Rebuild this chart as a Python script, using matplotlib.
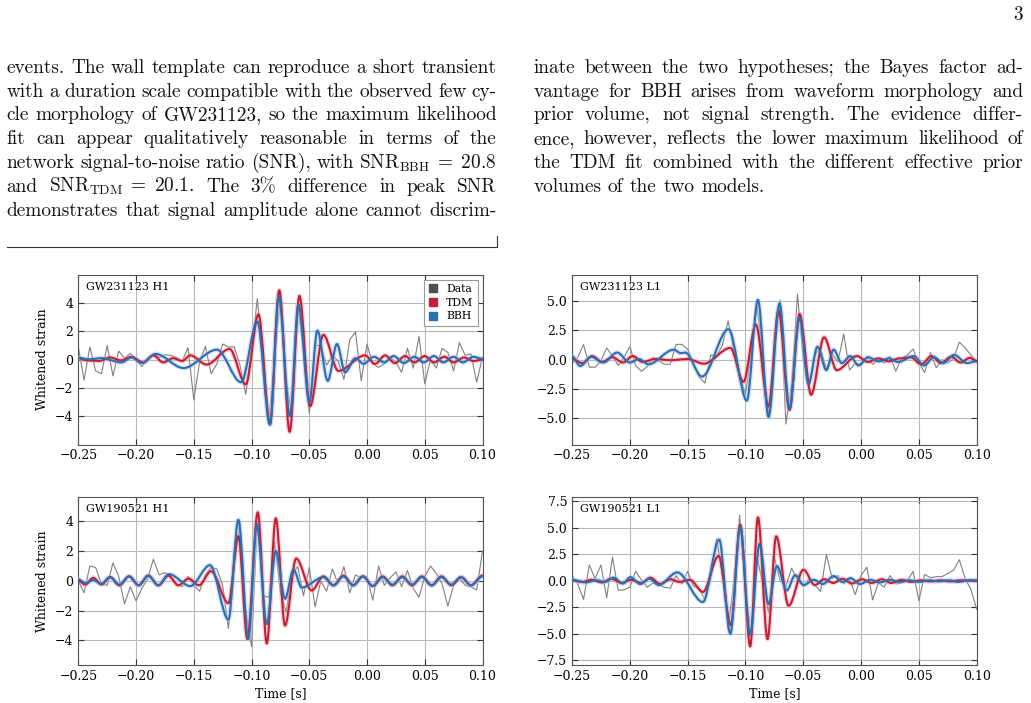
import matplotlib
matplotlib.use('Agg')
import numpy as np
import matplotlib.pyplot as plt
from matplotlib.path import Path
from matplotlib.patches import PathPatch, Patch
from matplotlib.lines import Line2D

W, H = 1031, 703

# ---- page text -------------------------------------------------------
left_lines = [
    "events. The wall template can reproduce a short transient",
    "with a duration scale compatible with the observed few cy-",
    "cle morphology of GW231123, so the maximum likelihood",
    "fit can appear qualitatively reasonable in terms of the",
    r"network signal-to-noise ratio (SNR), with $\mathrm{SNR}_{\mathrm{BBH}}\;=\;20.8$",
    r"and $\mathrm{SNR}_{\mathrm{TDM}}\;=\;20.1$. The 3% difference in peak SNR",
    "demonstrates that signal amplitude alone cannot discrim-",
]
right_lines = [
    "inate between the two hypotheses; the Bayes factor ad-",
    "vantage for BBH arises from waveform morphology and",
    "prior volume, not signal strength. The evidence differ-",
    "ence, however, reflects the lower maximum likelihood of",
    "the TDM fit combined with the different effective prior",
    "volumes of the two models.",
]

# ---- whitened data, sampled every 5 ms from -0.25 s to 0.10 s ---------
t_data = np.linspace(-0.25, 0.10, 71)

data_231123_h1 = [0.9, -1.45, 0.9, -0.8, -1.0, 1.0, -1.15, 0.6, 0.1, 0.45, 0.0,
                  -0.5, 0.0, 0.4, 0.15, 0.35, 0.3, 0.15, -0.1, 0.85, -2.85,
                  -0.2, 0.95, -1.0, -0.3, 1.1, 0.9, 0.9, -0.4, -2.45, 0.6,
                  4.3, 0.5, -4.4, 0.3, 4.3, -1.5, -4.0, 4.0, 0.5, -3.8,
                  1.0, 1.0, -0.4, 0.3, -0.1, -1.4, 1.4, 1.95, -1.5, 1.1,
                  -0.3, -0.55, -0.3, 0.2, -0.2, -0.9, 0.8, -0.6, 1.65, -1.7,
                  0.0, -0.6, 0.8, 0.5, -0.8, 1.2, 0.3, 0.4, -1.6, 0.2]
data_231123_l1 = [-0.35, 0.2, 1.3, -0.65, -0.65, -0.1, 1.0, 0.3, -0.5, 0.2, 1.1,
                  -0.5, -1.0, -0.6, 0.2, -0.1, -0.4, -0.4, 1.3, 1.3, 0.9,
                  -0.3, -1.5, -2.0, 0.4, 0.3, 1.2, 3.3, 0.8, -1.2, -3.0,
                  0.5, 4.6, 0.3, -4.5, 0.5, 5.1, -5.5, -2.0, 5.6, 0.0,
                  -2.3, 0.5, 0.9, -0.8, 0.5, -0.2, 2.2, -0.9, -0.3, -0.4,
                  0.2, -0.4, 0.0, -0.3, 0.3, -1.0, 0.1, 0.4, 0.9, -0.3,
                  -1.1, 0.6, -0.7, 0.0, -0.3, 0.1, 1.5, 1.0, 0.4, -0.2]
data_190521_h1 = [0.0, -0.8, 1.0, 0.9, -0.2, -0.3, 1.2, 0.3, -1.55, -0.4, -1.35,
                  -0.5, 0.1, 1.45, 0.4, 0.55, 0.3, -0.2, -0.4, 0.3, -0.3,
                  -0.7, 0.4, 0.9, 0.8, -0.3, -3.2, 1.0, 3.9, -2.0, -4.4,
                  4.0, -1.0, -1.1, 2.6, -0.8, -2.1, 0.5, 0.95, -1.0, 0.9,
                  -1.75, 0.0, -0.7, 0.8, -0.2, 0.95, -0.8, 0.4, 0.2, 0.3,
                  -1.3, 1.0, -0.3, 0.2, 0.6, -0.4, 0.7, -0.5, -1.1, 0.3,
                  1.0, 0.5, -0.2, -1.7, -0.3, 0.2, -0.3, -0.4, -0.6, 2.0]
data_190521_l1 = [0.5, -0.3, -1.75, 1.5, 0.2, 1.5, -1.6, 2.25, -0.9, -0.85, -0.6,
                  0.9, 0.1, -0.6, -0.2, -0.4, -0.6, -0.7, 0.5, -0.3, 0.9,
                  -0.5, -0.7, -1.8, 0.3, 4.0, 0.5, -4.6, 0.0, 6.2, -1.0,
                  -5.0, 2.3, -0.3, -3.0, 2.2, 0.0, -0.5, 1.2, 0.0, -0.5,
                  0.2, -0.4, -1.0, 2.5, 0.2, 0.5, -0.3, 0.2, -1.3, 0.5,
                  1.3, -1.8, -0.2, -0.6, 0.5, -0.3, -0.2, 0.0, 0.9, -1.9,
                  0.6, 0.3, 0.4, 0.4, 0.7, 1.0, 2.0, 0.2, -0.8, -2.7]

# ---- model waveforms: turning points (time [s], whitened strain) -------
tdm_231123_h1_t = [-0.250, -0.242, -0.232, -0.2225, -0.213, -0.204, -0.194, -0.185, -0.1765,
                   -0.168, -0.160, -0.153, -0.139, -0.119, -0.105, -0.094, -0.084, -0.076,
                   -0.067, -0.0585, -0.0493, -0.0378, -0.0248, -0.0017, 0.007, 0.0157,
                   0.024, 0.033, 0.041, 0.050, 0.058, 0.067, 0.075, 0.084, 0.092, 0.100]
tdm_231123_h1_v = [0.10, -0.05, -0.10, 0.15, -0.05, 0.20, -0.20, 0.30, -0.20,
                   0.10, -0.10, 0.30, -0.35, 0.75, -1.75, 3.20, -4.55, 4.90,
                   -5.10, 4.50, -3.30, 1.75, -0.80, 0.30, -0.30, 0.30,
                   -0.25, 0.25, -0.20, 0.25, -0.20, 0.20, -0.20, 0.15, -0.10, 0.00]
bbh_231123_h1_t = [-0.250, -0.241, -0.230, -0.2125, -0.204, -0.195, -0.183, -0.159, -0.130,
                   -0.109, -0.095, -0.084, -0.0765, -0.0667, -0.0594, -0.0499, -0.043,
                   -0.034, -0.026, -0.019, -0.010, -0.003, 0.006, 0.015, 0.023, 0.032,
                   0.041, 0.049, 0.058, 0.066, 0.075, 0.083, 0.092, 0.100]
bbh_231123_h1_v = [0.12, 0.02, 0.10, -0.20, 0.15, -0.25, 0.40, -0.60, 0.70,
                   -1.60, 2.70, -4.60, 4.50, -4.00, 3.90, -3.00, 2.05,
                   -1.50, 1.10, -0.90, 0.10, -0.30, 0.20, -0.20, 0.25, -0.25,
                   0.20, -0.20, 0.25, -0.20, 0.20, -0.20, 0.20, 0.05]

tdm_231123_l1_t = [-0.250, -0.241, -0.2325, -0.224, -0.215, -0.206, -0.1975, -0.189, -0.178,
                   -0.165, -0.150, -0.136, -0.113, -0.1017, -0.091, -0.080, -0.0714,
                   -0.0619, -0.0532, -0.0432, -0.032, -0.021, -0.0037, 0.006, 0.015,
                   0.024, 0.033, 0.043, 0.052, 0.061, 0.069, 0.078, 0.086, 0.094, 0.100]
tdm_231123_l1_v = [0.05, -0.30, 0.30, -0.20, 0.20, -0.25, 0.30, -0.20, 0.05,
                   -0.05, 0.05, -0.35, 1.00, -1.90, 3.00, -4.00, 4.20,
                   -4.30, 3.90, -3.00, 1.90, -0.90, 0.30, -0.20, 0.10,
                   -0.15, 0.10, 0.20, -0.40, 0.30, -0.30, 0.25, -0.25, 0.15, -0.10]
bbh_231123_l1_t = [-0.250, -0.243, -0.2335, -0.223, -0.211, -0.200, -0.192, -0.184, -0.162,
                   -0.156, -0.152, -0.1376, -0.1146, -0.0988, -0.0892, -0.080, -0.0705,
                   -0.0619, -0.0532, -0.0455, -0.0377, -0.030, -0.0238, -0.0167, -0.0094,
                   -0.0022, 0.006, 0.015, 0.024, 0.032, 0.0455, 0.0545, 0.063, 0.071,
                   0.0805, 0.0915, 0.100]
bbh_231123_l1_v = [0.30, -0.55, 0.25, -0.25, 0.60, -0.25, 0.05, -0.40, 0.85,
                   0.55, 0.60, -1.45, 2.60, -3.50, 5.10, -4.90, 4.80,
                   -4.20, 3.60, -2.10, 1.10, -0.90, 0.85, -0.30, 0.30,
                   -0.50, 0.20, -0.15, 0.10, -0.20, 0.30, -0.50, 0.20, -0.30,
                   0.40, -0.30, -0.15]

tdm_190521_h1_t = [-0.250, -0.244, -0.237, -0.230, -0.2225, -0.2145, -0.206, -0.1977, -0.1894,
                   -0.1807, -0.172, -0.1634, -0.1545, -0.1455, -0.135, -0.120, -0.1114,
                   -0.1036, -0.0946, -0.0868, -0.079, -0.071, -0.0614, -0.0479, -0.0378,
                   -0.029, -0.0204, -0.012, -0.0035, 0.005, 0.0135, 0.022, 0.0305, 0.039,
                   0.0475, 0.056, 0.0645, 0.073, 0.0815, 0.090, 0.100]
tdm_190521_h1_v = [0.00, -0.25, 0.20, -0.25, 0.25, -0.30, 0.30, -0.30, 0.35,
                   -0.30, 0.35, -0.30, 0.15, -0.30, 0.65, -1.50, 3.00,
                   -3.90, 4.60, -4.20, 4.20, -3.00, 1.50, -0.65, 0.30,
                   -0.30, 0.35, -0.30, 0.30, -0.35, 0.30, -0.30, 0.30, -0.30,
                   0.30, -0.30, 0.30, -0.30, 0.25, -0.30, 0.35]
bbh_190521_h1_t = [-0.250, -0.244, -0.237, -0.230, -0.2225, -0.2145, -0.206, -0.1977, -0.1894,
                   -0.1807, -0.1715, -0.153, -0.136, -0.120, -0.1114, -0.1027, -0.0955,
                   -0.0868, -0.079, -0.071, -0.0637, -0.0565, -0.0378, -0.029, -0.0204,
                   -0.012, -0.0035, 0.005, 0.0135, 0.022, 0.0305, 0.039, 0.0475, 0.056,
                   0.0645, 0.073, 0.0815, 0.090, 0.100]
bbh_190521_h1_v = [0.10, -0.15, 0.05, -0.20, 0.25, -0.25, 0.30, -0.30, 0.35,
                   -0.30, 0.45, -0.35, 1.05, -2.60, 4.10, -3.90, 3.80,
                   -2.90, 2.00, -1.20, 0.75, -0.45, 0.25, -0.30, 0.30,
                   -0.30, 0.30, -0.35, 0.25, -0.25, 0.25, -0.25, 0.25, -0.30,
                   0.25, -0.25, 0.25, -0.30, 0.30]

tdm_190521_l1_t = [-0.250, -0.241, -0.233, -0.224, -0.216, -0.207, -0.199, -0.190, -0.182,
                   -0.174, -0.165, -0.157, -0.148, -0.1368, -0.1232, -0.1126, -0.1045,
                   -0.0959, -0.0892, -0.0809, -0.0734, -0.0627, -0.0498, -0.040, -0.032,
                   -0.024, -0.016, -0.008, 0.001, 0.009, 0.018, 0.026, 0.035, 0.043,
                   0.052, 0.060, 0.069, 0.077, 0.086, 0.100]
tdm_190521_l1_v = [0.05, -0.10, 0.10, -0.15, 0.20, -0.20, 0.10, -0.20, 0.30,
                   -0.30, 0.15, -0.10, 0.10, -1.05, 2.35, -4.20, 5.30,
                   -6.20, 6.00, -5.50, 4.20, -2.35, 1.05, -0.40, 0.15,
                   -0.20, 0.20, -0.25, 0.15, -0.20, 0.15, -0.20, 0.10, -0.10,
                   0.05, -0.05, 0.05, -0.05, 0.05, 0.00]
bbh_190521_l1_t = [-0.250, -0.238, -0.229, -0.2215, -0.214, -0.206, -0.1996, -0.191, -0.183,
                   -0.175, -0.159, -0.1368, -0.1227, -0.1131, -0.1045, -0.0959, -0.0878,
                   -0.080, -0.0728, -0.0642, -0.057, -0.0495, -0.041, -0.033, -0.0238,
                   -0.016, -0.009, -0.001, 0.008, 0.016, 0.025, 0.033, 0.042, 0.050,
                   0.059, 0.067, 0.076, 0.084, 0.093, 0.100]
bbh_190521_l1_v = [0.10, -0.15, 0.05, -0.10, 0.30, -0.25, 0.35, -0.30, 0.20,
                   -0.40, 0.80, -2.00, 3.90, -5.00, 5.10, -5.10, 3.50,
                   -2.20, 1.40, -0.90, 0.55, -0.40, 0.10, -0.30, 0.45,
                   -0.10, 0.25, -0.30, 0.10, -0.15, 0.10, -0.10, 0.05, -0.10,
                   0.05, -0.05, 0.05, -0.10, 0.05, 0.05]

panel_names = ["GW231123 H1", "GW231123 L1", "GW190521 H1", "GW190521 L1"]
y_limits = [6.0, 7.25, 5.65, 7.95]
y_ticks = [[-4, -2, 0, 2, 4],
           [-5.0, -2.5, 0.0, 2.5, 5.0],
           [-4, -2, 0, 2, 4],
           [-7.5, -5.0, -2.5, 0.0, 2.5, 5.0, 7.5]]
x_ticks = [-0.25, -0.20, -0.15, -0.10, -0.05, 0.00, 0.05, 0.10]

DATA_C = '#808080'
TDM_C = '#c41e35'
BBH_C = '#2c6db3'
TDM_BAND = '#e9a3ac'
BBH_BAND = '#a8c6e6'

plt.rcParams['font.family'] = 'serif'
plt.rcParams['font.serif'] = ['DejaVu Serif']
plt.rcParams['mathtext.fontset'] = 'cm'

fig = plt.figure(figsize=(W / 100, H / 100), dpi=100)


def px_axes(x0, y0, x1, y1):
    return [x0 / W, 1 - y1 / H, (x1 - x0) / W, (y1 - y0) / H]


def wave(ax, ts, vs, color, lw, zorder, alpha=1.0):
    # smooth curve through the turning points, flat tangent at each one
    verts = [(ts[0], vs[0])]
    codes = [Path.MOVETO]
    for i in range(len(ts) - 1):
        d = (ts[i + 1] - ts[i]) / 3.0
        verts += [(ts[i] + d, vs[i]), (ts[i + 1] - d, vs[i + 1]), (ts[i + 1], vs[i + 1])]
        codes += [Path.CURVE4] * 3
    ax.add_patch(PathPatch(Path(verts, codes), fill=False, edgecolor=color, lw=lw,
                           alpha=alpha, zorder=zorder, capstyle='round', joinstyle='round'))


panels = [
    (px_axes(78.3, 274.7, 482.5, 444.5), data_231123_h1,
     (tdm_231123_h1_t, tdm_231123_h1_v), (bbh_231123_h1_t, bbh_231123_h1_v)),
    (px_axes(572.0, 274.7, 976.7, 444.5), data_231123_l1,
     (tdm_231123_l1_t, tdm_231123_l1_v), (bbh_231123_l1_t, bbh_231123_l1_v)),
    (px_axes(78.3, 496.7, 482.5, 665.0), data_190521_h1,
     (tdm_190521_h1_t, tdm_190521_h1_v), (bbh_190521_h1_t, bbh_190521_h1_v)),
    (px_axes(572.0, 496.7, 976.7, 665.0), data_190521_l1,
     (tdm_190521_l1_t, tdm_190521_l1_v), (bbh_190521_l1_t, bbh_190521_l1_v)),
]

for i, (rect, dat, tdm, bbh) in enumerate(panels):
    ax = fig.add_axes(rect)
    ax.plot(t_data, dat, color=DATA_C, lw=0.8, zorder=2)
    wave(ax, tdm[0], tdm[1], TDM_BAND, 3.5, 2.5, alpha=0.45)
    wave(ax, bbh[0], bbh[1], BBH_BAND, 3.5, 2.6, alpha=0.45)
    wave(ax, tdm[0], tdm[1], TDM_C, 1.5, 3)
    wave(ax, bbh[0], bbh[1], BBH_C, 1.5, 4)

    ax.set_xlim(-0.25, 0.10)
    ax.set_ylim(-y_limits[i], y_limits[i])
    ax.set_xticks(x_ticks)
    ax.set_yticks(y_ticks[i])
    ax.grid(True, color='#b8b8b8', lw=0.8)
    ax.set_axisbelow(True)
    ax.tick_params(direction='in', top=True, right=True, length=4, width=0.8,
                   color='#333333', labelsize=9)
    for s in ax.spines.values():
        s.set_color('#555555')
        s.set_linewidth(0.8)
    ax.text(0.02, 0.925, panel_names[i], transform=ax.transAxes, fontsize=8,
            va='center', ha='left', zorder=6)
    if i % 2 == 0:
        ax.set_ylabel("Whitened strain", fontsize=9)
    if i >= 2:
        ax.set_xlabel("Time [s]", fontsize=9, labelpad=3)
    if i == 0:
        handles = [Patch(color='#4d4d4d', label='Data'),
                   Patch(color=TDM_C, label='TDM'),
                   Patch(color=BBH_C, label='BBH')]
        leg = ax.legend(handles=handles, loc='upper right', fontsize=7.8,
                        handlelength=0.8, handleheight=0.8, handletextpad=0.8,
                        labelspacing=0.35, borderpad=0.4, borderaxespad=0.45,
                        fancybox=False, framealpha=1.0, edgecolor='#999999')
        leg.get_frame().set_linewidth(0.8)
        leg.set_zorder(10)

# ---- body text, justified line by line ---------------------------------
renderer = fig.canvas.get_renderer()
BODY = dict(family=['cmr10', 'DejaVu Serif'], fontsize=13.9, color='#111111')


def set_line(line, x0, x1, y, justify=True):
    words = line.split(' ')
    texts = [fig.text(0, 1 - y / H, w, va='baseline', ha='left', **BODY) for w in words]
    widths = [t.get_window_extent(renderer).width for t in texts]
    if justify and len(words) > 1:
        gap = (x1 - x0 - sum(widths)) / (len(words) - 1)
    else:
        gap = 6.6
    x = x0
    for t, w in zip(texts, widths):
        t.set_x(x / W)
        x += w + gap


for k, line in enumerate(left_lines):
    set_line(line, 6.7, 496.7, 72.7 + 23.9 * k)
for k, line in enumerate(right_lines):
    set_line(line, 533.3, 1023.0, 72.7 + 23.9 * k, justify=k < len(right_lines) - 1)

fig.text(1023 / W, 1 - 19.5 / H, "3", ha='right', va='baseline', **BODY)

# end-of-widetext rule under the left column
fig.add_artist(Line2D([6.7 / W, 496.7 / W, 496.7 / W],
                      [1 - 246.5 / H, 1 - 246.5 / H, 1 - 236 / H],
                      transform=fig.transFigure, color='#333333', lw=0.8))

fig.savefig('out.png', dpi=100)
